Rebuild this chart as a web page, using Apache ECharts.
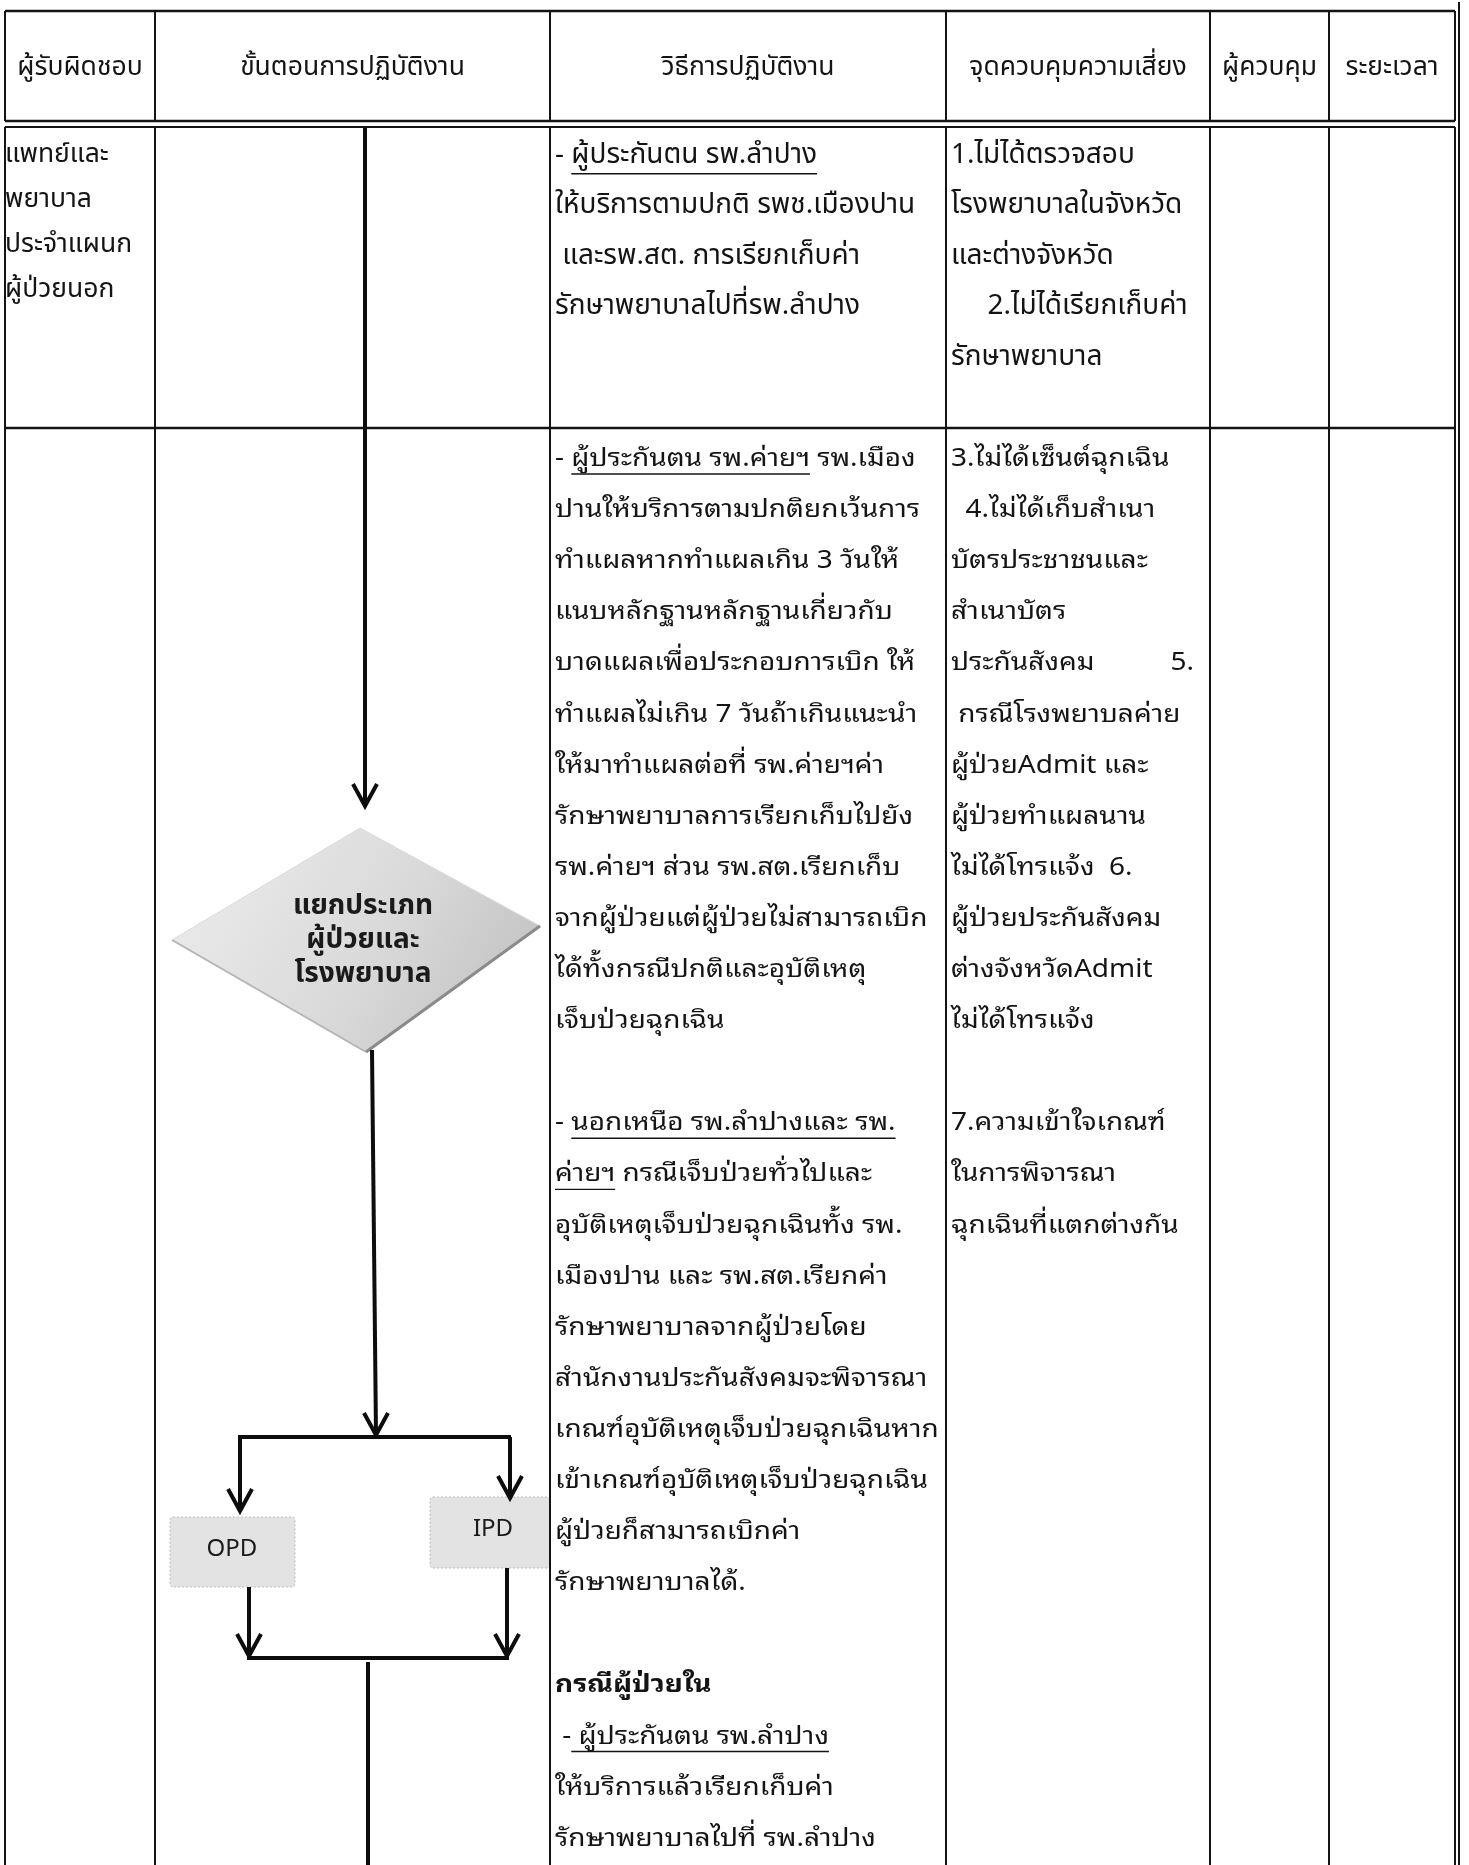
<!DOCTYPE html>
<html><head><meta charset="utf-8">
<script src="https://cdn.jsdelivr.net/npm/echarts@6/dist/echarts.min.js"></script>
<style>html,body{margin:0;padding:0;background:#fff}#c{width:1469px;height:1865px}</style>
</head><body><div id="c"></div>
<script>
// ================= DATA (text content) =================
const headers = ['ผู้รับผิดชอบ', 'ขั้นตอนการปฏิบัติงาน', 'วิธีการปฏิบัติงาน', 'จุดควบคุมความเสี่ยง', 'ผู้ควบคุม', 'ระยะเวลา'];
const respRow1 = ['แพทย์และ', 'พยาบาล', 'ประจำแผนก', 'ผู้ป่วยนอก'];
const methodRow1 = ['- __ผู้ประกันตน รพ.ลำปาง__', 'ให้บริการตามปกติ รพช.เมืองปาน', ' และรพ.สต. การเรียกเก็บค่า', 'รักษาพยาบาลไปที่รพ.ลำปาง'];
const riskRow1 = ['1.ไม่ได้ตรวจสอบ', 'โรงพยาบาลในจังหวัด', 'และต่างจังหวัด', '     2.ไม่ได้เรียกเก็บค่า', 'รักษาพยาบาล'];
const methodRow2 = [
  '- __ผู้ประกันตน รพ.ค่ายฯ__ รพ.เมือง',
  'ปานให้บริการตามปกติยกเว้นการ',
  'ทำแผลหากทำแผลเกิน 3 วันให้',
  'แนบหลักฐานหลักฐานเกี่ยวกับ',
  'บาดแผลเพื่อประกอบการเบิก ให้',
  'ทำแผลไม่เกิน 7 วันถ้าเกินแนะนำ',
  'ให้มาทำแผลต่อที่ รพ.ค่ายฯค่า',
  'รักษาพยาบาลการเรียกเก็บไปยัง',
  'รพ.ค่ายฯ ส่วน รพ.สต.เรียกเก็บ',
  'จากผู้ป่วยแต่ผู้ป่วยไม่สามารถเบิก',
  'ได้ทั้งกรณีปกติและอุบัติเหตุ',
  'เจ็บป่วยฉุกเฉิน',
  '',
  '- __นอกเหนือ รพ.ลำปางและ รพ.__',
  '__ค่ายฯ__ กรณีเจ็บป่วยทั่วไปและ',
  'อุบัติเหตุเจ็บป่วยฉุกเฉินทั้ง รพ.',
  'เมืองปาน และ รพ.สต.เรียกค่า',
  'รักษาพยาบาลจากผู้ป่วยโดย',
  'สำนักงานประกันสังคมจะพิจารณา',
  'เกณฑ์อุบัติเหตุเจ็บป่วยฉุกเฉินหาก',
  'เข้าเกณฑ์อุบัติเหตุเจ็บป่วยฉุกเฉิน',
  'ผู้ป่วยก็สามารถเบิกค่า',
  'รักษาพยาบาลได้.',
  '',
  '**กรณีผู้ป่วยใน',
  ' -__ ผู้ประกันตน รพ.ลำปาง__',
  'ให้บริการแล้วเรียกเก็บค่า',
  'รักษาพยาบาลไปที่ รพ.ลำปาง'
];
const riskRow2 = [
  '3.ไม่ได้เซ็นต์ฉุกเฉิน',
  '  4.ไม่ได้เก็บสำเนา',
  'บัตรประชาชนและ',
  'สำเนาบัตร',
  'ประกันสังคม\t5.',
  ' กรณีโรงพยาบลค่าย',
  'ผู้ป่วยAdmit และ',
  'ผู้ป่วยทำแผลนาน',
  'ไม่ได้โทรแจ้ง  6.',
  'ผู้ป่วยประกันสังคม',
  'ต่างจังหวัดAdmit',
  'ไม่ได้โทรแจ้ง',
  '',
  '7.ความเข้าใจเกณฑ์',
  'ในการพิจารณา',
  'ฉุกเฉินที่แตกต่างกัน'
];
const flowDecision = ['แยกประเภท', 'ผู้ป่วยและ', 'โรงพยาบาล'];
const flowBranches = ['OPD', 'IPD'];

// ================= LAYOUT / STYLE =================
const W = 1469, H = 1865;
const COLS = [5, 155, 550, 946, 1210, 1329, 1455];
const TOP = 11, HEAD_BOT = 121, ROW1_TOP = 127, ROW1_BOT = 428;
const INK = '#141414';
const FAM_LOOP = '"Noto Sans Thai Looped","Noto Looped Thai","Tahoma","Leelawadee UI","Loma","Garuda","Noto Sans Thai","Noto Sans",sans-serif';
const FAM_COND = '"Noto Sans Thai","TH Sarabun New","Angsana New","Norasi","Loma","Noto Sans",sans-serif';
const FAM_LATIN = '"Noto Sans","DejaVu Sans",sans-serif';

const mctx = document.createElement('canvas').getContext('2d');
function measure(str, font) { mctx.font = font; return mctx.measureText(str).width; }

// text items
const texts = [];
function addCell(lines, col, y0, lh, size, fam, pad, sx) {
  lines.forEach((t, i) => {
    if (!t) return;
    texts.push({ x: COLS[col] + pad, y: y0 + i * lh, text: t, size, fam, weight: 'normal', align: 'left', sx, right: COLS[col + 1] - 16 });
  });
}
headers.forEach((h, i) => {
  texts.push({ x: (COLS[i] + COLS[i + 1]) / 2, y: 70, text: h, size: 26.5, fam: FAM_COND, weight: 'normal', align: 'center', sx: 1 });
});
addCell(respRow1, 0, 157, 45, 26.5, FAM_COND, 0, 1);
addCell(methodRow1, 2, 157, 50.5, 28, FAM_COND, 5, 1);
addCell(riskRow1, 3, 157, 50.5, 28, FAM_COND, 5, 1);
addCell(methodRow2, 2, 459, 51.1, 25, FAM_LOOP, 5, 1.12);
addCell(riskRow2, 3, 459, 51.1, 25, FAM_LOOP, 5, 1.12);

// table rule segments [x1,y1,x2,y2,width]
const rules = [];
rules.push([COLS[0], TOP, COLS[6], TOP, 2.5]);
rules.push([COLS[0], HEAD_BOT, COLS[6], HEAD_BOT, 2.5]);
rules.push([COLS[0], ROW1_TOP, COLS[6], ROW1_TOP, 2]);
rules.push([COLS[0], ROW1_BOT, COLS[6], ROW1_BOT, 2.5]);
COLS.forEach((x) => {
  rules.push([x, TOP, x, HEAD_BOT, 2]);
  rules.push([x, ROW1_TOP, x, H, 2]);
});
rules.push([1459, 2, 1459, H, 2]);

// flow geometry
const flowLines = [
  [365, ROW1_TOP, 365, 806],
  [372, 1050, 376, 1435],
  [238, 1437, 511, 1437],
  [240, 1437, 240, 1511],
  [510, 1437, 510, 1498],
  [249, 1587, 249, 1656],
  [507, 1568, 507, 1656],
  [247, 1658, 509, 1658],
  [368, 1662, 368, H]
];
const arrowTips = [[365, 806], [376, 1435], [240, 1511], [510, 1498], [249, 1656], [507, 1656]];
const diamondPts = [[360, 828], [540, 926], [366, 1052], [172, 940]];
const diamondText = { x: 363, y: 908, lh: 34 };
const boxes = [
  { x0: 170, y0: 1517, x1: 295, y1: 1587, tx: 232, ty: 1549 },
  { x0: 430, y0: 1497, x1: 550, y1: 1568, tx: 493, ty: 1529 }
];

// ================= RENDER =================
function pt(api, x, y) { return api.coord([x, y]); }

function renderRule(params, api) {
  const r = rules[params.dataIndex];
  const a = pt(api, r[0], r[1]), b = pt(api, r[2], r[3]);
  return { type: 'line', shape: { x1: a[0], y1: a[1], x2: b[0], y2: b[1] }, style: { stroke: INK, lineWidth: r[4] } };
}

function txt(x, y, text, font, align, sx) {
  return { type: 'text', x, y, scaleX: sx || 1, style: { x: 0, y: 0, text, font, fill: INK, textAlign: align, textVerticalAlign: 'middle', align, verticalAlign: 'middle' } };
}

function renderText(params, api) {
  const d = texts[params.dataIndex];
  const p = pt(api, d.x, d.y);
  let t = d.text, weight = d.weight;
  if (t.startsWith('**')) { t = t.slice(2); weight = 'bold'; }
  const font = weight + ' ' + d.size + 'px ' + d.fam;
  const children = [];
  if (d.align === 'center') {
    children.push(txt(p[0], p[1], t, font, 'center', d.sx));
    return { type: 'group', children };
  }
  let rightPart = null;
  if (t.indexOf('\t') >= 0) { const s = t.split('\t'); t = s[0]; rightPart = s[1]; }
  const parts = t.split('__');
  let x = p[0];
  parts.forEach((seg, k) => {
    if (!seg) return;
    const w = measure(seg, font) * d.sx;
    children.push(txt(x, p[1], seg, font, 'left', d.sx));
    if (k % 2 === 1) {
      const uy = p[1] + d.size * 0.6;
      children.push({ type: 'line', shape: { x1: x, y1: uy, x2: x + w, y2: uy }, style: { stroke: INK, lineWidth: 1.4 } });
    }
    x += w;
  });
  if (rightPart) {
    const rp = pt(api, d.right, d.y);
    children.push(txt(rp[0], rp[1], rightPart, font, 'right', d.sx));
  }
  return { type: 'group', children };
}

function renderFlow(params, api) {
  const children = [];
  const P = diamondPts.map(q => pt(api, q[0], q[1]));
  children.push({ type: 'polygon', shape: { points: P }, style: { fill: new echarts.graphic.LinearGradient(0, 0, 1, 1, [{ offset: 0, color: '#eeeeee' }, { offset: 0.55, color: '#d9d9d9' }, { offset: 1, color: '#bcbcbc' }]), stroke: '#dadada', lineWidth: 1 } });
  children.push({ type: 'polyline', shape: { points: [P[1], P[2]] }, style: { stroke: '#8a8a8a', lineWidth: 3 } });
  children.push({ type: 'polyline', shape: { points: [P[3], P[2]] }, style: { stroke: '#b5b5b5', lineWidth: 2 } });
  flowDecision.forEach((s, i) => {
    const p = pt(api, diamondText.x, diamondText.y + i * diamondText.lh);
    const e = txt(p[0], p[1], s, 'bold 28px ' + FAM_COND, 'center', 1);
    e.style.fill = '#1a1a1a';
    children.push(e);
  });
  boxes.forEach((b, i) => {
    const a = pt(api, b.x0, b.y0), c = pt(api, b.x1, b.y1);
    children.push({ type: 'rect', shape: { x: a[0], y: a[1], width: c[0] - a[0], height: c[1] - a[1], r: 3 }, style: { fill: '#e3e3e3', stroke: '#bdbdbd', lineWidth: 1, lineDash: [2, 2] } });
    const t = pt(api, b.tx, b.ty);
    const e = txt(t[0], t[1], flowBranches[i], '24px ' + FAM_LATIN, 'center', 1);
    e.style.fill = '#1a1a1a';
    children.push(e);
  });
  flowLines.forEach(l => {
    const a = pt(api, l[0], l[1]), b = pt(api, l[2], l[3]);
    children.push({ type: 'line', shape: { x1: a[0], y1: a[1], x2: b[0], y2: b[1] }, style: { stroke: '#0d0d0d', lineWidth: 4 } });
  });
  arrowTips.forEach(t => {
    const a = pt(api, t[0] - 12, t[1] - 22), m = pt(api, t[0], t[1]), c = pt(api, t[0] + 12, t[1] - 22);
    children.push({ type: 'polyline', shape: { points: [a, m, c] }, style: { stroke: '#0d0d0d', lineWidth: 4, lineJoin: 'miter', fill: null } });
  });
  return { type: 'group', children };
}

const chart = echarts.init(document.getElementById('c'), null, { renderer: 'canvas', width: W, height: H });
chart.setOption({
  backgroundColor: '#ffffff',
  animation: false,
  grid: { left: 0, right: 0, top: 0, bottom: 0 },
  xAxis: { type: 'value', min: 0, max: W, show: false },
  yAxis: { type: 'value', min: 0, max: H, inverse: true, show: false },
  series: [
    { type: 'custom', coordinateSystem: 'cartesian2d', clip: false, silent: true, renderItem: renderFlow, data: [[0, 0]], z: 1 },
    { type: 'custom', coordinateSystem: 'cartesian2d', clip: false, silent: true, renderItem: renderRule, data: rules.map(r => [r[0], r[1]]), z: 2 },
    { type: 'custom', coordinateSystem: 'cartesian2d', clip: false, silent: true, renderItem: renderText, data: texts.map(t => [t.x, t.y]), z: 3 }
  ]
});
</script></body></html>
